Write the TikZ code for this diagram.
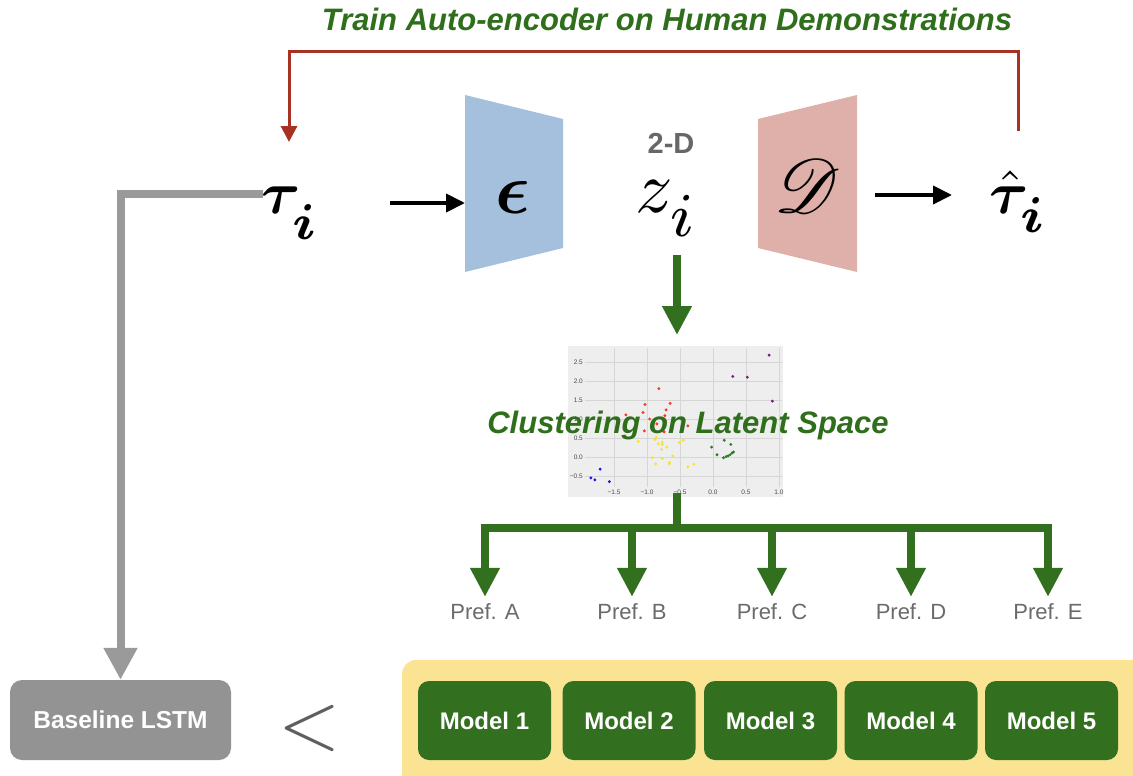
\documentclass[tikz,border=0pt]{standalone}
\usepackage{amsmath,bm,mathrsfs,graphicx}
\usepackage{fontspec}
\newfontfamily\hv{Liberation Sans}
\usetikzlibrary{arrows.meta}
\definecolor{grn}{HTML}{32701F}
\definecolor{ttl}{HTML}{2F6E1B}
\definecolor{rd}{HTML}{A83222}
\definecolor{gline}{HTML}{9A9A9A}
\definecolor{gbox}{HTML}{939393}
\definecolor{encc}{HTML}{A4C0DD}
\definecolor{decc}{HTML}{DFB0AA}
\definecolor{yel}{HTML}{FAE494}
\definecolor{preft}{HTML}{6B6B6B}
\definecolor{twod}{HTML}{676767}
\definecolor{lt}{HTML}{5F5F5F}
\definecolor{plotbg}{HTML}{EEEEEE}
\definecolor{gridc}{HTML}{D6D6D6}
\definecolor{ticklab}{HTML}{4A4A4A}
\definecolor{pred}{HTML}{F03A2A}
\definecolor{pyel}{HTML}{F2E43A}
\definecolor{pgrn}{HTML}{2E7D2A}
\definecolor{pblu}{HTML}{1A1AF0}
\definecolor{ppur}{HTML}{7A1A7A}
\newcommand\myfs[1]{\fontsize{#1}{#1}\selectfont}
\newcommand\lowsub[2]{\lower#1pt\hbox{\scalebox{1.2}{$\scriptstyle#2$}}}
\begin{document}
\begin{tikzpicture}[x=1pt,y=-1pt,
  titletext/.style={font=\hv\bfseries\itshape\myfs{31}, text=ttl, inner sep=0, anchor=base},
  mathtext/.style={inner sep=0, anchor=base},
  blkarr/.style={line width=4pt, -{Triangle[length=19pt,width=18pt]}},
  redarr/.style={draw=rd, line width=3pt, -{Triangle[length=16pt,width=16pt]}, line join=miter},
  grayarr/.style={draw=gline, line width=8pt, -{Triangle[length=32pt,width=32pt]}, line join=miter},
  grnarr/.style={draw=grn, line width=8pt, -{Triangle[length=29pt,width=28pt]}},
  grnline/.style={draw=grn, line width=8pt, line cap=rect},
  preftext/.style={font=\hv\myfs{22}, text=preft, inner sep=0, anchor=base},
  modelbox/.style={fill=grn, rounded corners=11pt, minimum width=133pt, minimum height=79pt, text=white, font=\hv\bfseries\myfs{24}, inner sep=0},
  basebox/.style={fill=gbox, rounded corners=12pt, minimum width=221pt, minimum height=80pt, text=white, font=\hv\bfseries\myfs{24.5}, inner sep=0},
  ticktext/.style={font=\hv\myfs{6.5}, text=ticklab, inner sep=0},
  ghost/.style={inner sep=0, outer sep=0}
]
\clip (0,0) rectangle (1133,776);
\fill[white] (0,0) rectangle (1133,776);

% title
\node[titletext] (title) at (667,31) {Train Auto-encoder on Human Demonstrations};

% encoder / decoder shapes
\node[ghost, minimum width=98pt, minimum height=177pt] (enc) at (514,183.5) {};
\fill[encc] (enc.north west) -- ([yshift=-24pt]enc.north east) -- ([yshift=24pt]enc.south east) -- (enc.south west) -- cycle;
\node[ghost, minimum width=99pt, minimum height=177pt] (dec) at (807.5,183.5) {};
\fill[decc] ([yshift=-24pt]dec.north west) -- (dec.north east) -- (dec.south east) -- ([yshift=24pt]dec.south west) -- cycle;

% math symbols
\node[mathtext] (tau) at (290,213) {\scalebox{6}{$\bm{\tau}_{\lowsub{3}{\bm{i}}}$}};
\node[mathtext] (eps) at (513,213) {\scalebox{7.2}{$\bm{\epsilon}$}};
\node[font=\hv\bfseries\myfs{29}, text=twod, inner sep=0, anchor=base] (twoD) at (671,153) {2-D};
\node[mathtext] (zi) at (667,212) {\scalebox{7.4}{$z_{\lowsub{1.8}{i}}$}};
\node[mathtext] (D) at (807,212) {\scalebox{7.6}{$\mathscr{D}$}};
\node[mathtext] (tauhat) at (1018,213) {\scalebox{6}{$\bm{\hat{\tau}}_{\lowsub{1.8}{\bm{i}}}$}};

% black arrows
\coordinate (e0) at (390,203);
\draw[blkarr] (e0) -- (e0 -| enc.west);
\coordinate (d0) at (875,195);
\coordinate (d1) at (952,195);
\draw[blkarr] (d0) -- (d1);

% red feedback
\coordinate (r0) at (1018,131);
\coordinate (r1) at (289,142);
\coordinate (rtop) at (0,52);
\draw[redarr] (r0) -- (r0 |- rtop) -| (r1);

% scatter plot
\node[ghost, fill=plotbg, minimum width=215pt, minimum height=151pt] (plot) at (675.5,421.5) {};
\begin{scope}[shift={(713pt,-457pt)}, x=66pt, y=38pt]
  \foreach \gx in {-1.5,-1.0,-0.5,0.0,0.5,1.0} \draw[gridc, line width=0.6pt] (\gx,-0.79) -- (\gx,2.87);
  \foreach \gy in {-0.5,0.0,0.5,1.0,1.5,2.0,2.5} \draw[gridc, line width=0.6pt] (-1.94,\gy) -- (1.045,\gy);
  \foreach \gx/\lab in {-1.5/−1.5,-1.0/−1.0,-0.5/−0.5,0.0/0.0,0.5/0.5,1.0/1.0}
    \node[ticktext] at (\gx,-0.93) {\lab};
  \foreach \gy/\lab in {-0.5/−0.5,0.0/0.0,0.5/0.5,1.0/1.0,1.5/1.5,2.0/2.0,2.5/2.5}
    \node[ticktext, anchor=east] at (-1.97,\gy) {\lab};
  \foreach \p in {(0.85,2.68),(0.30,2.12),(0.52,2.10),(0.90,1.47)}
    \fill[ppur] \p circle (1.6pt);
  \foreach \p in {(-0.82,1.80),(-0.65,1.41),(-1.03,1.38),(-0.71,1.24),(-1.06,1.17),(-1.32,1.11),(-0.73,1.09),(-0.96,1.0),(-0.72,0.94),(-0.85,0.87),(-0.38,0.82),(-1.04,0.69),(-0.74,0.66),(-0.76,0.69)}
    \fill[pred] \p circle (1.6pt);
  \foreach \p in {(-1.13,0.41),(-0.86,0.52),(-0.88,0.46),(-0.83,0.35),(-0.77,0.39),(-0.77,0.33),(-0.70,0.26),(-0.78,0.20),(-0.45,0.44),(-0.51,0.38),(-0.92,-0.02),(-0.61,0.03),(-0.77,-0.04),(-0.66,-0.14),(-0.66,-0.18),(-0.87,-0.18),(-0.29,-0.19),(-0.38,-0.26)}
    \fill[pyel] \p circle (1.6pt);
  \foreach \p in {(-0.02,0.26),(0.17,0.44),(0.27,0.33),(0.06,0.06),(0.16,-0.02),(0.20,0.01),(0.23,0.03),(0.26,0.06),(0.29,0.11),(0.31,0.13)}
    \fill[pgrn] \p circle (1.6pt);
  \foreach \p in {(-1.71,-0.32),(-1.85,-0.55),(-1.79,-0.60),(-1.57,-0.65)}
    \fill[pblu] \p circle (1.6pt);
\end{scope}
\node[titletext] (clabel) at (688,433) {Clustering on Latent Space};

% green arrow z -> plot
\coordinate (z0) at (677,255);
\draw[grnarr, shorten >=11pt] (z0) -- (z0 |- plot.north);

% preference labels
\node[preftext] (prefA) at (485,619) {Pref. A};
\node[preftext] (prefB) at (632,619) {Pref. B};
\node[preftext] (prefC) at (772,619) {Pref. C};
\node[preftext] (prefD) at (911,619) {Pref. D};
\node[preftext] (prefE) at (1048,619) {Pref. E};

% tree
\coordinate (branch) at (677,528);
\draw[grnline] (z0 |- plot.south) -- (branch);
\draw[grnline] (prefA.north |- branch) -- (prefE.north |- branch);
\foreach \n in {prefA,prefB,prefC,prefD,prefE}
  \draw[grnarr, shorten >=6pt] (\n.north |- branch) -- (\n.north);

% models group
\node[ghost, fill=yel, rounded corners=14pt, minimum width=760pt, minimum height=140pt, anchor=north west] (grp) at (402,660) {};
\node[modelbox] (m1) at (484.5,720.5) {Model 1};
\node[modelbox] (m2) at (629,720.5) {Model 2};
\node[modelbox] (m3) at (770.5,720.5) {Model 3};
\node[modelbox] (m4) at (911,720.5) {Model 4};
\node[modelbox] (m5) at (1051.5,720.5) {Model 5};

% baseline
\node[basebox] (base) at (120.5,720) {Baseline LSTM};
\node[mathtext, text=lt] (lt) at (310,748) {\scalebox{8}{$<$}};

% gray path
\coordinate (g0) at (263,194);
\draw[grayarr] (g0) -| (base.north);
\end{tikzpicture}
\end{document}
